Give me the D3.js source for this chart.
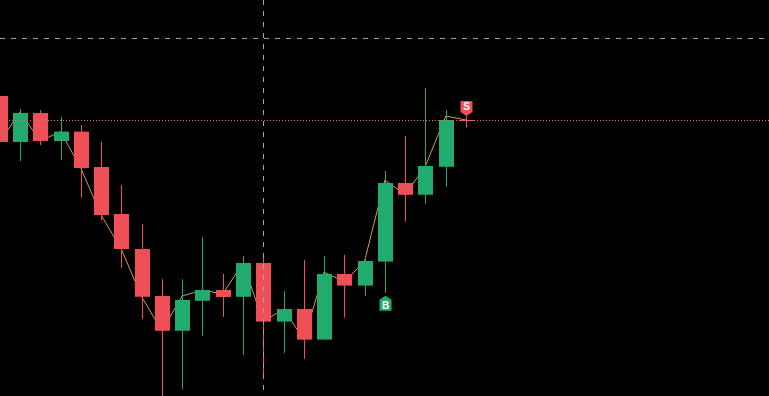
<!DOCTYPE html>
<html>
<head>
<meta charset="utf-8">
<script src="https://cdn.jsdelivr.net/npm/d3@7"></script>
<style>
  html, body { margin: 0; padding: 0; background: #000; overflow: hidden; }
  svg { display: block; }
</style>
</head>
<body>
<svg id="chart" width="769" height="396"></svg>
<script>
// ---- data (no axis shown, arbitrary price units) ----
const categories = ["09:00","09:05","09:10","09:15","09:20","09:25","09:30","09:35",
  "09:40","09:45","09:50","09:55","10:00","10:05","10:10","10:15","10:20","10:25",
  "10:30","10:35","10:40","10:45","10:50","10:55"];
const opens  = [76.0, 64.5, 71.75, 64.75, 67.1, 58.25, 46.5, 37.75, 26.0, 17.3, 24.8, 27.5,
                25.8, 34.25, 19.6, 22.75, 15.1, 31.5, 28.6, 34.6, 54.25, 51.3, 58.3, 70.0];
const highs  = [76.0, 72.75, 72.5, 70.8, 68.75, 64.5, 53.75, 44.0, 30.2, 30.2, 40.7, 31.5,
                36.0, 35.8, 27.25, 35.0, 36.0, 36.25, 36.0, 57.25, 66.0, 78.0, 72.5, 71.0];
const lows   = [64.5, 59.75, 63.75, 60.0, 50.6, 45.0, 33.0, 20.25, 0.5, 2.7, 16.1, 20.8,
                11.25, 5.75, 11.8, 10.3, 15.1, 20.6, 26.1, 26.8, 44.6, 49.1, 53.3, 68.1];
const closes = [64.5, 71.75, 64.75, 67.1, 58.0, 46.25, 37.75, 25.8, 17.3, 25.0, 27.5, 25.75,
                34.25, 19.6, 22.75, 15.1, 31.5, 28.6, 34.75, 54.25, 51.3, 58.5, 70.0, 69.9];
const lineValues = [64.5, 72.0, 64.75, 67.1, 58.0, 46.25, 37.75, 25.8, 17.3, 26.0, 27.5, 26.5,
                34.25, 19.6, 22.75, 15.1, 32.0, 29.5, 34.75, 55.0, 51.3, 58.5, 71.0, 70.0];
const markers = [ { index: 19, type: "B" }, { index: 23, type: "S" } ];
const crosshair = { index: 13, price: 90.4 };
const lastPrice = closes[closes.length - 1];

// ---- layout / style ----
const W = 769, H = 396;
const GREEN = "#22ab6e", RED = "#ef4f56", LINE = "#d99a3e";
const svg = d3.select("#chart");
svg.append("rect").attr("width", W).attr("height", H).attr("fill", "#000");

const x = d3.scalePoint().domain(categories).range([-0.3, 466]);
const y = d3.scaleLinear().domain([0, 100]).range([400, 0]);
const bodyW = 15;

const data = categories.map((c, i) => ({
  c, o: opens[i], h: highs[i], l: lows[i], cl: closes[i], v: lineValues[i]
}));

// close line (behind candles)
svg.append("path")
  .datum(data)
  .attr("fill", "none")
  .attr("stroke", LINE)
  .attr("stroke-width", 1)
  .attr("d", d3.line().x(d => x(d.c)).y(d => y(d.v)));

const g = svg.append("g");
const candle = g.selectAll("g.candle").data(data).join("g").attr("class", "candle");
candle.append("line")
  .attr("x1", d => Math.round(x(d.c)) + 0.5)
  .attr("x2", d => Math.round(x(d.c)) + 0.5)
  .attr("y1", d => y(d.h))
  .attr("y2", d => y(d.l))
  .attr("stroke", d => d.cl >= d.o ? GREEN : RED)
  .attr("stroke-width", 1);
candle.append("rect")
  .attr("x", d => Math.round(x(d.c)) + 0.5 - bodyW / 2)
  .attr("width", bodyW)
  .attr("y", d => y(Math.max(d.o, d.cl)))
  .attr("height", d => Math.max(1, Math.abs(y(d.o) - y(d.cl))))
  .attr("fill", d => d.cl >= d.o ? GREEN : RED);

// last price dotted line
svg.append("line")
  .attr("x1", 0).attr("x2", W)
  .attr("y1", Math.round(y(lastPrice)) + 0.5)
  .attr("y2", Math.round(y(lastPrice)) + 0.5)
  .attr("stroke", "#e0735a")
  .attr("stroke-width", 1)
  .attr("stroke-dasharray", "1,2");

// crosshair
const cx = Math.round(x(categories[crosshair.index])) + 0.5;
const cy = Math.round(y(crosshair.price)) + 0.5;
svg.append("line").attr("x1", 0).attr("x2", W).attr("y1", cy).attr("y2", cy)
  .attr("stroke", "#a3a6ad").attr("stroke-width", 1).attr("stroke-dasharray", "5,6");
svg.append("line").attr("x1", cx).attr("x2", cx).attr("y1", 0).attr("y2", H)
  .attr("stroke", "#a3a6ad").attr("stroke-width", 1).attr("stroke-dasharray", "5,6");

// markers
markers.forEach(m => {
  const d = data[m.index];
  const mx = Math.round(x(d.c)) + 0.5;
  const w = 12, box = 11, tip = 4;
  let path, ty;
  if (m.type === "B") {
    const top = y(d.l) + 3;
    path = `M${mx},${top} L${mx + w/2},${top + tip} L${mx + w/2},${top + tip + box} L${mx - w/2},${top + tip + box} L${mx - w/2},${top + tip} Z`;
    ty = top + tip + box / 2;
  } else {
    const bot = y(d.h);
    path = `M${mx},${bot} L${mx + w/2},${bot - tip} L${mx + w/2},${bot - tip - box} L${mx - w/2},${bot - tip - box} L${mx - w/2},${bot - tip} Z`;
    ty = bot - tip - box / 2;
  }
  svg.append("path").attr("d", path).attr("fill", m.type === "B" ? GREEN : RED);
  svg.append("text")
    .attr("x", mx).attr("y", ty)
    .attr("text-anchor", "middle")
    .attr("dominant-baseline", "central")
    .attr("font-family", "'Liberation Sans', Arial, sans-serif")
    .attr("font-weight", "bold")
    .attr("font-size", 10)
    .attr("fill", "#fff")
    .text(m.type);
});
</script>
</body>
</html>
